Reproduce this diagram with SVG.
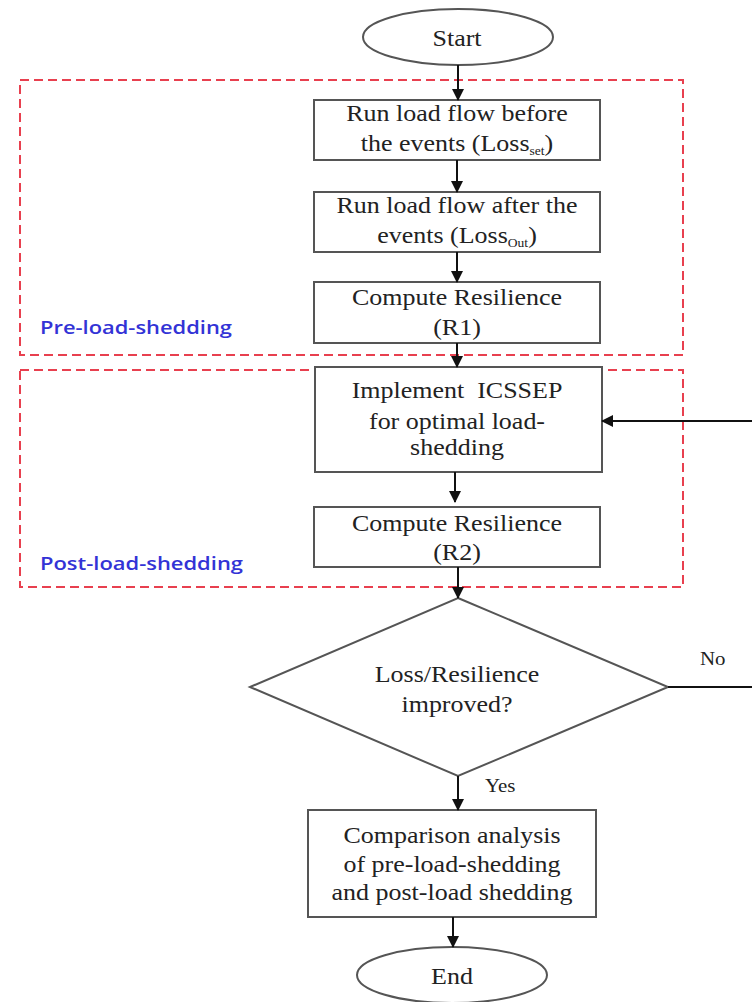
<svg xmlns="http://www.w3.org/2000/svg" width="752" height="1002" viewBox="0 0 752 1002">
<defs>
<marker id="ah" markerWidth="12" markerHeight="12" refX="11" refY="6" orient="auto" markerUnits="userSpaceOnUse">
<path d="M0,0 L12,6 L0,12 Z" fill="#111"/>
</marker>
<style>
.box{fill:#fff;stroke:#555;stroke-width:2}
.t{font-family:"Liberation Serif","Times New Roman",serif;font-size:23px;fill:#222;text-anchor:middle}
.s{font-size:12px}
.lbl{font-family:"Liberation Serif","Times New Roman",serif;font-size:19px;fill:#222}
.grp{fill:none;stroke:#e8404f;stroke-width:2;stroke-dasharray:9 5}
.gl{font-family:"Open Sans","Liberation Sans",sans-serif;font-size:18px;font-weight:600;fill:#3333d6}
.c{fill:none;stroke:#111;stroke-width:2;marker-end:url(#ah)}
</style>
</defs>
<rect width="752" height="1002" fill="#fff"/>
<g id="groups">
<rect class="grp" x="20" y="80" width="663" height="275"/>
<text class="gl" x="40" y="334" textLength="192" lengthAdjust="spacingAndGlyphs">Pre-load-shedding</text>
<rect class="grp" x="20" y="370" width="663" height="217"/>
<text class="gl" x="40" y="570" textLength="203" lengthAdjust="spacingAndGlyphs">Post-load-shedding</text>
</g>
<g id="start"><ellipse class="box" cx="458" cy="37" rx="95" ry="28"/><text class="t" transform="translate(457 46) scale(1.13 1)">Start</text></g>
<g id="n1"><rect class="box" x="314" y="100" width="286" height="60"/>
<text class="t" transform="translate(457 121) scale(1.13 1)">Run load flow before</text>
<text class="t" transform="translate(457 151) scale(1.13 1)">the events (Loss<tspan class="s" dy="4">set</tspan><tspan dy="-4">)</tspan></text></g>
<g id="n2"><rect class="box" x="314" y="192" width="286" height="60"/>
<text class="t" transform="translate(457 213) scale(1.13 1)">Run load flow after the</text>
<text class="t" transform="translate(457 243) scale(1.13 1)">events (Loss<tspan class="s" dy="4">Out</tspan><tspan dy="-4">)</tspan></text></g>
<g id="n3"><rect class="box" x="314" y="282" width="286" height="61"/>
<text class="t" transform="translate(457 305) scale(1.13 1)">Compute Resilience</text>
<text class="t" transform="translate(457 335) scale(1.13 1)">(R1)</text></g>
<g id="n4"><rect class="box" x="315" y="367" width="287" height="105"/>
<text class="t" transform="translate(457 398) scale(1.13 1)" xml:space="preserve">Implement  ICSSEP</text>
<text class="t" transform="translate(457 429) scale(1.13 1)">for optimal load-</text>
<text class="t" transform="translate(457 455) scale(1.13 1)">shedding</text></g>
<g id="n5"><rect class="box" x="314" y="507" width="286" height="60"/>
<text class="t" transform="translate(457 531) scale(1.13 1)">Compute Resilience</text>
<text class="t" transform="translate(457 560) scale(1.13 1)">(R2)</text></g>
<g id="d1"><polygon class="box" points="458,598 668,687 458,776 250,687"/>
<text class="t" transform="translate(457 682) scale(1.13 1)">Loss/Resilience</text>
<text class="t" transform="translate(457 712) scale(1.13 1)">improved?</text></g>
<g id="n6"><rect class="box" x="308" y="810" width="288" height="107"/>
<text class="t" transform="translate(452 843) scale(1.13 1)">Comparison analysis</text>
<text class="t" transform="translate(452 872) scale(1.13 1)">of pre-load-shedding</text>
<text class="t" transform="translate(452 900) scale(1.13 1)">and post-load shedding</text></g>
<g id="end"><ellipse class="box" cx="452" cy="975" rx="95" ry="28"/><text class="t" transform="translate(452 984) scale(1.13 1)">End</text></g>
<g id="connectors">
<line class="c" x1="458" y1="65" x2="458" y2="100"/>
<line class="c" x1="457" y1="160" x2="457" y2="192"/>
<line class="c" x1="457" y1="252" x2="457" y2="282"/>
<line class="c" x1="457" y1="343" x2="457" y2="367"/>
<line class="c" x1="455" y1="472" x2="455" y2="502"/>
<line class="c" x1="458" y1="567" x2="458" y2="598"/>
<line class="c" x1="458" y1="776" x2="458" y2="810"/>
<line class="c" x1="453" y1="917" x2="453" y2="947"/>
<path class="c" d="M668,687 H765 V421 H602"/>
<text class="lbl" transform="translate(700 665) scale(1.1 1)">No</text>
<text class="lbl" transform="translate(485 792) scale(1.1 1)">Yes</text>
</g>
</svg>
